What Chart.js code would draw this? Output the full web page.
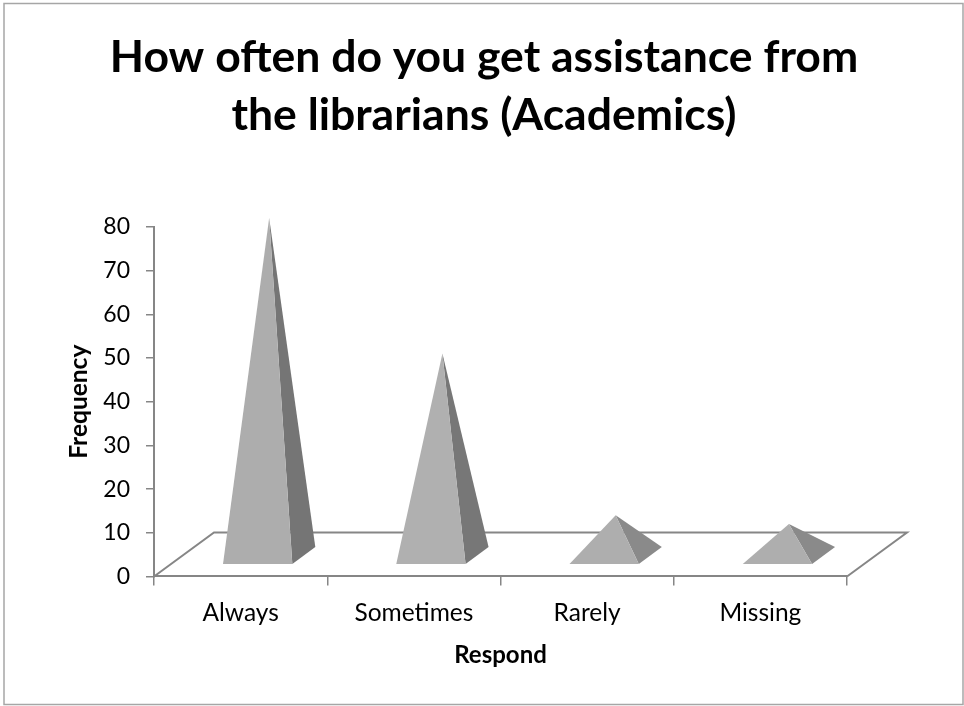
<!DOCTYPE html>
<html>
<head>
<meta charset="utf-8">
<title>Assistance from librarians</title>
<script src="https://cdn.jsdelivr.net/npm/chart.js@4"></script>
<style>
    html, body { margin: 0; padding: 0; background: #fff; }
    #wrap { width: 964px; height: 706px; }
</style>
</head>
<body>
<div id="wrap"><canvas id="respondChart" width="964" height="706"></canvas></div>
<script>
const categories = ['Always', 'Sometimes', 'Rarely', 'Missing'];
const frequency = [77, 46, 9, 7];
const yTicks = [0, 10, 20, 30, 40, 50, 60, 70, 80];
const titleLines = ['How often do you get assistance from', 'the librarians (Academics)'];

const AXIS_COLOR = '#868686';
const FONT = 'Lato, Carlito, Calibri, sans-serif';

// floor depth of the fake 3D box, in pixels
const DEPTH_X = 60;
const DEPTH_Y = 44;

// outer frame of the chart
const framePlugin = {
    id: 'frame',
    beforeDraw(chart) {
        const ctx = chart.ctx;
        ctx.save();
        ctx.fillStyle = '#fff';
        ctx.fillRect(0, 0, chart.width, chart.height);
        ctx.strokeStyle = '#a6a6a6';
        ctx.lineWidth = 1.5;
        ctx.strokeRect(4, 3.5, chart.width - 5, chart.height - 5);
        ctx.restore();
    }
};

// slanted floor behind the pyramids
const floorPlugin = {
    id: 'floor',
    beforeDatasetsDraw(chart) {
        const { ctx, chartArea } = chart;
        const y0 = chart.scales.y.getPixelForValue(0);
        ctx.save();
        ctx.strokeStyle = AXIS_COLOR;
        ctx.lineWidth = 2;
        ctx.beginPath();
        ctx.moveTo(chartArea.left, y0);
        ctx.lineTo(chartArea.left + DEPTH_X, y0 - DEPTH_Y);
        ctx.lineTo(chartArea.right + DEPTH_X, y0 - DEPTH_Y);
        ctx.lineTo(chartArea.right, y0);
        ctx.stroke();
        ctx.restore();
    }
};

// the bars stay invisible, each one is redrawn as a pyramid standing on the floor
const pyramidPlugin = {
    id: 'pyramid',
    afterDatasetsDraw(chart) {
        const ctx = chart.ctx;
        const yScale = chart.scales.y;
        const y0 = yScale.getPixelForValue(0);
        const meta = chart.getDatasetMeta(0);
        const ds = chart.data.datasets[0];
        // front edge of the base sits 28% into the floor depth
        const frontX = DEPTH_X * 0.284, frontY = DEPTH_Y * 0.284;
        const sideX = 23, sideY = 17;

        meta.data.forEach((bar, i) => {
            const half = bar.width / 2;
            const fl = [bar.x - half + frontX, y0 - frontY];
            const fr = [bar.x + half + frontX, y0 - frontY];
            const br = [fr[0] + sideX, fr[1] - sideY];
            // apex is measured at the middle of the floor depth
            const apex = [(fl[0] + br[0]) / 2, yScale.getPixelForValue(frequency[i]) - DEPTH_Y / 2];

            ctx.save();
            ctx.fillStyle = ds.sideColors[i];
            ctx.beginPath();
            ctx.moveTo(apex[0], apex[1]);
            ctx.lineTo(fr[0], fr[1]);
            ctx.lineTo(br[0], br[1]);
            ctx.closePath();
            ctx.fill();

            ctx.fillStyle = ds.faceColors[i];
            ctx.beginPath();
            ctx.moveTo(apex[0], apex[1]);
            ctx.lineTo(fl[0], fl[1]);
            ctx.lineTo(fr[0], fr[1]);
            ctx.closePath();
            ctx.fill();
            ctx.restore();
        });
    }
};

new Chart(document.getElementById('respondChart'), {
    type: 'bar',
    data: {
        labels: categories,
        datasets: [{
            label: 'Frequency',
            data: frequency,
            backgroundColor: 'rgba(0,0,0,0)',
            faceColors: ['#adadad', '#b0b0b0', '#aeaeae', '#aeaeae'],
            sideColors: ['#757575', '#777777', '#8a8a8a', '#8a8a8a'],
            barPercentage: 0.4,
            categoryPercentage: 1
        }]
    },
    options: {
        responsive: false,
        animation: false,
        layout: { padding: { top: 29, left: 4, right: 0, bottom: 36 } },
        plugins: {
            legend: { display: false },
            tooltip: { enabled: false },
            title: {
                display: true,
                text: titleLines,
                color: '#000',
                font: { family: FONT, size: 44.5, weight: 'bold', lineHeight: 1.303 },
                padding: { top: 0, bottom: 82 }
            }
        },
        scales: {
            x: {
                grid: { drawOnChartArea: false, color: AXIS_COLOR, tickColor: AXIS_COLOR, tickLength: 9, lineWidth: 1.5 },
                border: { color: AXIS_COLOR, width: 2 },
                ticks: { color: '#000', font: { family: FONT, size: 24.5, lineHeight: 1.05 }, padding: 15, maxRotation: 0 },
                title: { display: true, text: 'Respond', color: '#000', font: { family: FONT, size: 24, weight: 'bold' }, padding: { top: 0, bottom: 0 } }
            },
            y: {
                min: 0,
                max: 80,
                afterBuildTicks(scale) { scale.ticks = yTicks.map(v => ({ value: v })); },
                afterFit(scale) { scale.width = 150; },
                grid: { drawOnChartArea: false, color: AXIS_COLOR, tickColor: AXIS_COLOR, tickLength: 8, lineWidth: 1.5 },
                border: { color: AXIS_COLOR, width: 2 },
                ticks: { color: '#000', font: { family: FONT, size: 23 }, padding: 16 },
                title: { display: true, text: 'Frequency', color: '#000', font: { family: FONT, size: 24.5, weight: 'bold' }, padding: { top: 60, bottom: 0 } }
            },
            // empty axis that reserves the room the floor needs on the right
            spacer: {
                type: 'linear',
                position: 'right',
                afterFit(scale) { scale.width = 117; },
                ticks: { display: false },
                grid: { display: false },
                border: { display: false }
            }
        }
    },
    plugins: [framePlugin, floorPlugin, pyramidPlugin]
});
</script>
</body>
</html>
